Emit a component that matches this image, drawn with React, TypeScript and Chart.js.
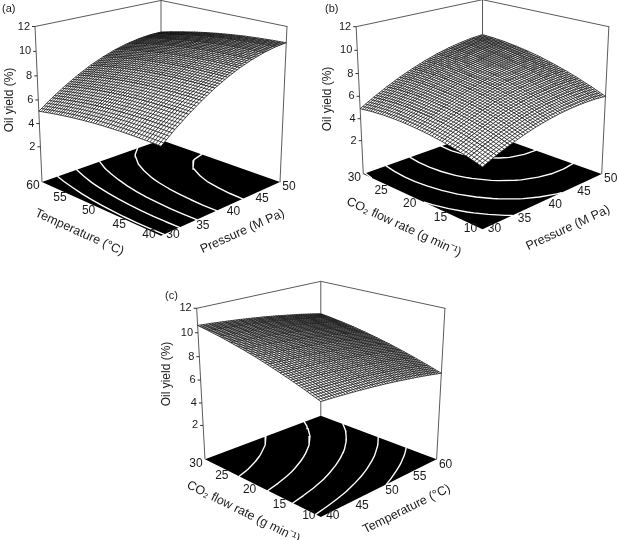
import { useEffect, useRef } from "react"
import { Chart, registerables } from "chart.js"

Chart.register(...registerables)

// grid nodes of the response surfaces
const pressure = [30, 32, 34, 36, 38, 40, 42, 44, 46, 48, 50]
const temperature = [40, 42, 44, 46, 48, 50, 52, 54, 56, 58, 60]
const co2Flow = [10, 12, 14, 16, 18, 20, 22, 24, 26, 28, 30]

// oil yield (%) - rows: temperature 40..60, columns: pressure 30..50
const yieldPressureTemp = [
  [5.8, 6.69, 7.48, 8.19, 8.82, 9.35, 9.8, 10.15, 10.42, 10.61, 10.7],
  [5.83, 6.71, 7.5, 8.2, 8.82, 9.34, 9.78, 10.13, 10.39, 10.57, 10.65],
  [5.84, 6.71, 7.49, 8.19, 8.79, 9.31, 9.74, 10.08, 10.34, 10.5, 10.58],
  [5.83, 6.69, 7.46, 8.15, 8.75, 9.26, 9.68, 10.01, 10.26, 10.42, 10.49],
  [5.79, 6.64, 7.41, 8.09, 8.68, 9.18, 9.59, 9.92, 10.16, 10.31, 10.37],
  [5.73, 6.57, 7.33, 8.0, 8.58, 9.08, 9.48, 9.8, 10.03, 10.17, 10.23],
  [5.64, 6.48, 7.23, 7.89, 8.46, 8.95, 9.35, 9.66, 9.88, 10.01, 10.06],
  [5.53, 6.36, 7.1, 7.75, 8.32, 8.8, 9.19, 9.49, 9.7, 9.83, 9.87],
  [5.39, 6.21, 6.95, 7.59, 8.15, 8.62, 9.0, 9.3, 9.5, 9.62, 9.65],
  [5.23, 6.05, 6.77, 7.41, 7.96, 8.42, 8.8, 9.08, 9.28, 9.39, 9.41],
  [5.05, 5.86, 6.57, 7.2, 7.75, 8.2, 8.57, 8.84, 9.03, 9.14, 9.15],
]

// rows: CO2 flow rate 10..30, columns: pressure 30..50
const yieldPressureFlow = [
  [4.0, 4.49, 4.91, 5.27, 5.57, 5.8, 5.97, 6.07, 6.11, 6.09, 6.0],
  [4.31, 4.81, 5.25, 5.63, 5.95, 6.2, 6.38, 6.5, 6.56, 6.55, 6.48],
  [4.57, 5.09, 5.55, 5.94, 6.28, 6.54, 6.75, 6.88, 6.96, 6.97, 6.92],
  [4.78, 5.32, 5.79, 6.21, 6.56, 6.84, 7.06, 7.22, 7.31, 7.34, 7.31],
  [4.94, 5.5, 5.99, 6.42, 6.79, 7.09, 7.33, 7.5, 7.62, 7.66, 7.64],
  [5.05, 5.63, 6.14, 6.59, 6.97, 7.29, 7.55, 7.74, 7.87, 7.93, 7.94],
  [5.12, 5.71, 6.24, 6.71, 7.11, 7.45, 7.72, 7.93, 8.08, 8.16, 8.18],
  [5.14, 5.75, 6.3, 6.78, 7.2, 7.55, 7.85, 8.07, 8.24, 8.34, 8.37],
  [5.11, 5.74, 6.3, 6.8, 7.24, 7.61, 7.92, 8.17, 8.35, 8.46, 8.52],
  [5.03, 5.67, 6.26, 6.78, 7.23, 7.62, 7.95, 8.21, 8.41, 8.54, 8.61],
  [4.9, 5.56, 6.16, 6.7, 7.17, 7.58, 7.93, 8.21, 8.42, 8.58, 8.66],
]

// rows: CO2 flow rate 10..30, columns: temperature 40..60
const yieldTempFlow = [
  [7.9, 7.84, 7.76, 7.67, 7.56, 7.44, 7.3, 7.14, 6.98, 6.79, 6.59],
  [8.29, 8.22, 8.14, 8.05, 7.94, 7.81, 7.67, 7.51, 7.34, 7.15, 6.95],
  [8.65, 8.58, 8.5, 8.4, 8.28, 8.16, 8.01, 7.85, 7.68, 7.49, 7.28],
  [8.98, 8.91, 8.83, 8.73, 8.61, 8.48, 8.33, 8.17, 7.99, 7.8, 7.59],
  [9.29, 9.22, 9.13, 9.03, 8.91, 8.77, 8.62, 8.45, 8.27, 8.08, 7.87],
  [9.58, 9.5, 9.41, 9.3, 9.18, 9.04, 8.89, 8.72, 8.53, 8.33, 8.12],
  [9.83, 9.75, 9.66, 9.55, 9.42, 9.28, 9.12, 8.95, 8.77, 8.56, 8.35],
  [10.06, 9.98, 9.88, 9.77, 9.64, 9.5, 9.34, 9.16, 8.97, 8.77, 8.55],
  [10.27, 10.18, 10.08, 9.96, 9.83, 9.69, 9.52, 9.35, 9.15, 8.95, 8.72],
  [10.45, 10.36, 10.25, 10.13, 10.0, 9.85, 9.68, 9.5, 9.31, 9.1, 8.87],
  [10.6, 10.51, 10.4, 10.28, 10.14, 9.99, 9.82, 9.63, 9.44, 9.22, 8.99],
]

const yieldTicks = [2, 4, 6, 8, 10, 12]
const pressureTicks = [30, 35, 40, 45, 50]
const temperatureTicks = [40, 45, 50, 55, 60]
const flowTicks = [10, 15, 20, 25, 30]

// contour levels drawn on the floor
const levelsA = [6, 7, 8, 9, 10]
const levelsB = [5, 6, 7, 8]
const levelsC = [7.4, 8.05, 8.7, 9.35, 10]

const Z_MIN = -1.1
const Z_MAX = 12
const HATCH = 5
const FONT = '"Liberation Sans", Arial, Helvetica, sans-serif'

interface Cam {
  cx: number
  floorY: number
  W: number
  Hs: number
  r: number
  phi: number
}

interface Panel {
  tag: string
  tagPos: [number, number]
  zLabelPos: [number, number]
  xs: number[]
  ys: number[]
  z: number[][]
  levels: number[]
  xTicks: number[]
  yTicks: number[]
  xTitle: string
  yTitle: string
  xTitleOff: [number, number]
  yTitleOff: [number, number]
  cam: Cam
}

const panels: Panel[] = [
  {
    tag: "(a)",
    tagPos: [2, 9],
    zLabelPos: [10, 100],
    xs: pressure,
    ys: temperature,
    z: yieldPressureTemp,
    levels: levelsA,
    xTicks: pressureTicks,
    yTicks: temperatureTicks,
    xTitle: "Pressure (M Pa)",
    yTitle: "Temperature (°C)",
    xTitleOff: [22, 22.5],
    yTitleOff: [-22, 23.5],
    cam: { cx: 161, floorY: 182, W: 119, Hs: 155.5, r: 1.0588, phi: 18.5 },
  },
  {
    tag: "(b)",
    tagPos: [325, 9],
    zLabelPos: [328, 99],
    xs: pressure,
    ys: co2Flow,
    z: yieldPressureFlow,
    levels: levelsB,
    xTicks: pressureTicks,
    yTicks: flowTicks,
    xTitle: "Pressure (M Pa)",
    yTitle: "CO₂ flow rate (g min⁻¹)",
    xTitleOff: [26, 26.5],
    yTitleOff: [-19, 25.5],
    cam: { cx: 482.5, floorY: 174, W: 119.2, Hs: 147.3, r: 1.06, phi: 19 },
  },
  {
    tag: "(c)",
    tagPos: [165, 296],
    zLabelPos: [167, 374],
    xs: temperature,
    ys: co2Flow,
    z: yieldTempFlow,
    levels: levelsC,
    xTicks: temperatureTicks,
    yTicks: flowTicks,
    xTitle: "Temperature (°C)",
    yTitle: "CO₂ flow rate (g min⁻¹)",
    xTitleOff: [28, 21],
    yTitleOff: [-19.5, 24],
    cam: { cx: 320.8, floorY: 459.3, W: 115.8, Hs: 151, r: 1.072, phi: 20 },
  },
]

type Pt = { x: number; y: number }

// perspective view of the unit box, azimuth 45 degrees
function camera(cam: Cam) {
  const phi = (cam.phi * Math.PI) / 180
  const cs = Math.cos(phi)
  const sn = Math.sin(phi)
  const a = cam.W / Math.SQRT2
  const hc = cam.Hs / (a * (1 + cam.r))
  const h = hc / cs
  const hs = h * sn
  const dist = (hs * (1 + cam.r)) / (cam.r - 1)
  const k = a * (dist + hs)
  const cy = cam.floorY - a * hc
  return (X: number, Y: number, Z: number): Pt => {
    const u = (X - Y) / Math.SQRT2
    const d = (X + Y) / Math.SQRT2
    const zz = Z * h
    const v = zz * cs + d * sn
    const depth = d * cs - zz * sn
    const q = k / (dist + depth)
    return { x: cam.cx + u * q, y: cy - v * q }
  }
}

const code = (v: number, arr: number[]) => -1 + (2 * (v - arr[0])) / (arr[arr.length - 1] - arr[0])
const codeZ = (z: number) => -1 + (2 * (z - Z_MIN)) / (Z_MAX - Z_MIN)
const lerp = (a: Pt, b: Pt, f: number): Pt => ({ x: a.x + (b.x - a.x) * f, y: a.y + (b.y - a.y) * f })

// marching squares, result in fractional grid indices
function contourSegments(z: number[][], level: number) {
  const segs: number[][] = []
  for (let j = 0; j < z.length - 1; j++) {
    for (let i = 0; i < z[0].length - 1; i++) {
      const corners = [
        [i, j, z[j][i]],
        [i + 1, j, z[j][i + 1]],
        [i + 1, j + 1, z[j + 1][i + 1]],
        [i, j + 1, z[j + 1][i]],
      ]
      const hits: number[][] = []
      for (let e = 0; e < 4; e++) {
        const p = corners[e]
        const q = corners[(e + 1) % 4]
        if (p[2] > level !== q[2] > level) {
          const f = (level - p[2]) / (q[2] - p[2])
          hits.push([p[0] + (q[0] - p[0]) * f, p[1] + (q[1] - p[1]) * f])
        }
      }
      if (hits.length >= 2) segs.push([...hits[0], ...hits[1]])
      if (hits.length === 4) segs.push([...hits[2], ...hits[3]])
    }
  }
  return segs
}

function buildDatasets() {
  const sets: any[] = []
  panels.forEach((p) => {
    const proj = camera(p.cam)
    const frame = [
      [[-1, 1, -1], [-1, 1, 1]],
      [[1, -1, -1], [1, -1, 1]],
      [[1, 1, -1], [1, 1, 1]],
      [[-1, 1, 1], [1, 1, 1], [1, -1, 1]],
    ]
    const frameData: any[] = []
    frame.forEach((line) => {
      line.forEach((c) => frameData.push(proj(c[0], c[1], c[2])))
      frameData.push({ x: 0, y: null })
    })
    sets.push({ data: frameData, borderColor: "#5a5a5a", borderWidth: 1 })

    const nx = p.xs.length - 1
    const ny = p.ys.length - 1
    const contourData: any[] = []
    p.levels.forEach((level) => {
      contourSegments(p.z, level).forEach((s) => {
        contourData.push(proj(-1 + (2 * s[0]) / nx, -1 + (2 * s[1]) / ny, -1))
        contourData.push(proj(-1 + (2 * s[2]) / nx, -1 + (2 * s[3]) / ny, -1))
        contourData.push({ x: 0, y: null })
      })
    })
    sets.push({ data: contourData, borderColor: "#ffffff", borderWidth: 1.4 })
  })
  return sets.map((s) => ({
    type: "line",
    pointRadius: 0,
    fill: false,
    tension: 0,
    spanGaps: false,
    borderCapStyle: "round",
    ...s,
  }))
}

function textAt(ctx: CanvasRenderingContext2D, s: string, x: number, y: number, angle: number, font: string) {
  ctx.save()
  ctx.translate(x, y)
  ctx.rotate(angle)
  ctx.font = font
  ctx.textAlign = "center"
  ctx.textBaseline = "middle"
  ctx.fillText(s, 0, 0)
  ctx.restore()
}

export default function App() {
  const chartRef = useRef<HTMLCanvasElement>(null)
  const chartInstance = useRef<Chart | null>(null)

  useEffect(() => {
    document.body.style.margin = "0"
    if (!chartRef.current) return
    if (chartInstance.current) chartInstance.current.destroy()
    const ctx = chartRef.current.getContext("2d")
    if (!ctx) return

    const floorPlugin = {
      id: "floors",
      beforeDatasetsDraw(chart: any) {
        const { ctx: c, scales } = chart
        const toPx = (q: Pt) => ({ x: scales.x.getPixelForValue(q.x), y: scales.y.getPixelForValue(q.y) })
        panels.forEach((p) => {
          const proj = camera(p.cam)
          const pts = [proj(-1, 1, -1), proj(-1, -1, -1), proj(1, -1, -1), proj(1, 1, -1)].map(toPx)
          c.save()
          c.fillStyle = "#000"
          c.beginPath()
          pts.forEach((q, i) => (i ? c.lineTo(q.x, q.y) : c.moveTo(q.x, q.y)))
          c.closePath()
          c.fill()
          c.restore()
        })
      },
    }

    const surfacePlugin = {
      id: "surfaces",
      afterDatasetsDraw(chart: any) {
        const { ctx: c, scales } = chart
        const toPx = (q: Pt) => ({ x: scales.x.getPixelForValue(q.x), y: scales.y.getPixelForValue(q.y) })
        panels.forEach((p) => {
          const proj = camera(p.cam)
          const nx = p.xs.length - 1
          const ny = p.ys.length - 1
          const nodes = p.z.map((row, j) =>
            row.map((v, i) => toPx(proj(-1 + (2 * i) / nx, -1 + (2 * j) / ny, codeZ(v))))
          )
          const cells: number[][] = []
          for (let j = 0; j < ny; j++) for (let i = 0; i < nx; i++) cells.push([i, j])
          // far cells first
          cells.sort((a, b) => b[0] + b[1] - (a[0] + a[1]))
          c.save()
          c.lineWidth = 0.75
          c.strokeStyle = "#111111"
          c.fillStyle = "#ffffff"
          cells.forEach(([i, j]) => {
            const A = nodes[j][i]
            const B = nodes[j][i + 1]
            const C = nodes[j + 1][i + 1]
            const D = nodes[j + 1][i]
            c.beginPath()
            c.moveTo(A.x, A.y)
            c.lineTo(B.x, B.y)
            c.lineTo(C.x, C.y)
            c.lineTo(D.x, D.y)
            c.closePath()
            c.fill()
            c.beginPath()
            for (let s = 0; s <= HATCH; s++) {
              const f = s / HATCH
              const p1 = lerp(A, B, f)
              const p2 = lerp(D, C, f)
              c.moveTo(p1.x, p1.y)
              c.lineTo(p2.x, p2.y)
              const p3 = lerp(A, D, f)
              const p4 = lerp(B, C, f)
              c.moveTo(p3.x, p3.y)
              c.lineTo(p4.x, p4.y)
            }
            c.stroke()
          })
          c.restore()

          // axes and text
          c.save()
          c.fillStyle = "#1a1a1a"
          c.strokeStyle = "#333"
          c.lineWidth = 1
          c.font = `11px ${FONT}`
          c.textAlign = "right"
          c.textBaseline = "middle"
          yieldTicks.forEach((t) => {
            const q = toPx(proj(-1, 1, codeZ(t)))
            c.beginPath()
            c.moveTo(q.x - 3, q.y)
            c.lineTo(q.x, q.y)
            c.stroke()
            c.fillText(String(t), q.x - 5, q.y)
          })
          c.font = `12px ${FONT}`
          c.textAlign = "center"
          p.xTicks.forEach((t) => {
            const X = code(t, p.xs)
            const q = toPx(proj(X, -1, -1))
            if (X === -1) c.fillText(String(t), q.x + 12, q.y - 1)
            else c.fillText(String(t), q.x + 9, q.y + 5)
          })
          p.yTicks.forEach((t) => {
            const Y = code(t, p.ys)
            const q = toPx(proj(-1, Y, -1))
            if (Y === -1) c.fillText(String(t), q.x - 12, q.y - 1)
            else c.fillText(String(t), q.x - 9, q.y + 4)
          })
          const left = toPx(proj(-1, 1, -1))
          const front = toPx(proj(-1, -1, -1))
          const right = toPx(proj(1, -1, -1))
          textAt(
            c,
            p.yTitle,
            (left.x + front.x) / 2 + p.yTitleOff[0],
            (left.y + front.y) / 2 + p.yTitleOff[1],
            Math.atan2(front.y - left.y, front.x - left.x),
            `12.5px ${FONT}`
          )
          textAt(
            c,
            p.xTitle,
            (front.x + right.x) / 2 + p.xTitleOff[0],
            (front.y + right.y) / 2 + p.xTitleOff[1],
            Math.atan2(right.y - front.y, right.x - front.x),
            `12.5px ${FONT}`
          )
          textAt(c, "Oil yield (%)", p.zLabelPos[0], p.zLabelPos[1], -Math.PI / 2, `12px ${FONT}`)
          c.font = `11px ${FONT}`
          c.textAlign = "left"
          c.fillText(p.tag, p.tagPos[0], p.tagPos[1])
          c.restore()
        })
      },
    }

    chartInstance.current = new Chart(ctx, {
      type: "scatter",
      data: { datasets: buildDatasets() as any },
      options: {
        animation: false,
        responsive: true,
        maintainAspectRatio: false,
        events: [],
        layout: { padding: 0 },
        plugins: { legend: { display: false }, tooltip: { enabled: false } },
        scales: {
          x: { type: "linear", min: 0, max: 617, display: false },
          y: { type: "linear", min: 0, max: 540, reverse: true, display: false },
        },
      },
      plugins: [floorPlugin, surfacePlugin],
    })

    return () => {
      if (chartInstance.current) {
        chartInstance.current.destroy()
        chartInstance.current = null
      }
    }
  }, [])

  return (
    <div style={{ position: "relative", width: 617, height: 540, background: "#fff" }}>
      <canvas ref={chartRef} />
    </div>
  )
}
